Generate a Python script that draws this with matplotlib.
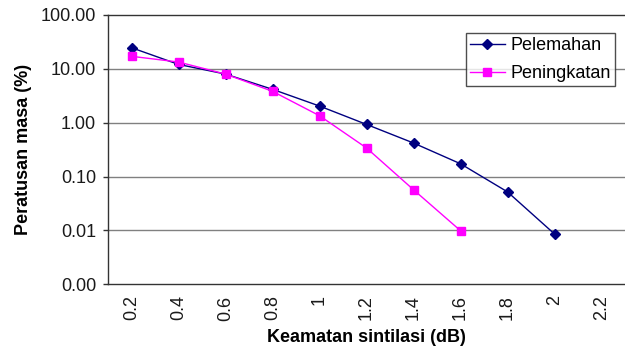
import matplotlib
matplotlib.use("Agg")
import matplotlib.pyplot as plt
from matplotlib.ticker import FixedLocator, FixedFormatter, NullLocator

# Scintillation intensity categories (dB)
categories = ["0.2", "0.4", "0.6", "0.8", "1", "1.2", "1.4", "1.6", "1.8", "2", "2.2"]

# Percentage of time exceeded (%)
pelemahan = [24.7, 12.1, 8.0, 4.17, 2.04, 0.93, 0.42, 0.173, 0.052, 0.0086]
peningkatan = [17.1, 13.4, 8.0, 3.83, 1.35, 0.34, 0.057, 0.0099]

y_ticks = [0.001, 0.01, 0.1, 1, 10, 100]
y_ticklabels = ["0.00", "0.01", "0.10", "1.00", "10.00", "100.00"]

plt.rcParams["font.family"] = ["Liberation Sans", "DejaVu Sans"]
FS = 13

fig = plt.figure(figsize=(6.25, 3.46), dpi=100)
ax = fig.add_axes([108 / 625, 1 - 284.3 / 346, 517 / 625, (284.3 - 15) / 346])

x_pel = list(range(len(pelemahan)))
x_pen = list(range(len(peningkatan)))

ax.plot(x_pel, pelemahan, color="#000080", marker="D", markersize=5,
        linewidth=1, label="Pelemahan", zorder=3)
ax.plot(x_pen, peningkatan, color="#FF00FF", marker="s", markersize=6,
        linewidth=1, label="Peningkatan", zorder=3)

ax.set_yscale("log")
ax.set_ylim(0.001, 100)
ax.set_xlim(-0.5, len(categories) - 0.5)

ax.yaxis.set_major_locator(FixedLocator(y_ticks))
ax.yaxis.set_major_formatter(FixedFormatter(y_ticklabels))
ax.yaxis.set_minor_locator(NullLocator())
ax.set_xticks(range(len(categories)))
ax.set_xticklabels(categories, rotation=90)

ax.tick_params(axis="y", which="major", length=3.6, width=1, color="#333333",
               labelsize=FS, pad=5, labelcolor="#1a1a1a")
ax.tick_params(axis="x", length=0, labelsize=FS, pad=8, labelcolor="#1a1a1a")

for y in y_ticks[1:-1]:
    ax.axhline(y, color="#808080", linewidth=1, zorder=1)

for side in ("left", "bottom", "top"):
    ax.spines[side].set_color("#333333")
    ax.spines[side].set_linewidth(1)
ax.spines["right"].set_visible(False)

ax.set_ylabel("Peratusan masa (%)", fontsize=FS, fontweight="bold", labelpad=6)
ax.set_xlabel("Keamatan sintilasi (dB)", fontsize=FS, fontweight="bold", labelpad=6)

leg = ax.legend(loc="upper left", bbox_to_anchor=(0.692, 0.932), frameon=True,
                fancybox=False, edgecolor="#222222", fontsize=FS,
                borderpad=0.22, handlelength=1.95, labelspacing=0.62,
                handletextpad=0.3, borderaxespad=0)
leg.get_frame().set_linewidth(1)

fig.savefig("out.png", dpi=100, facecolor="white")
